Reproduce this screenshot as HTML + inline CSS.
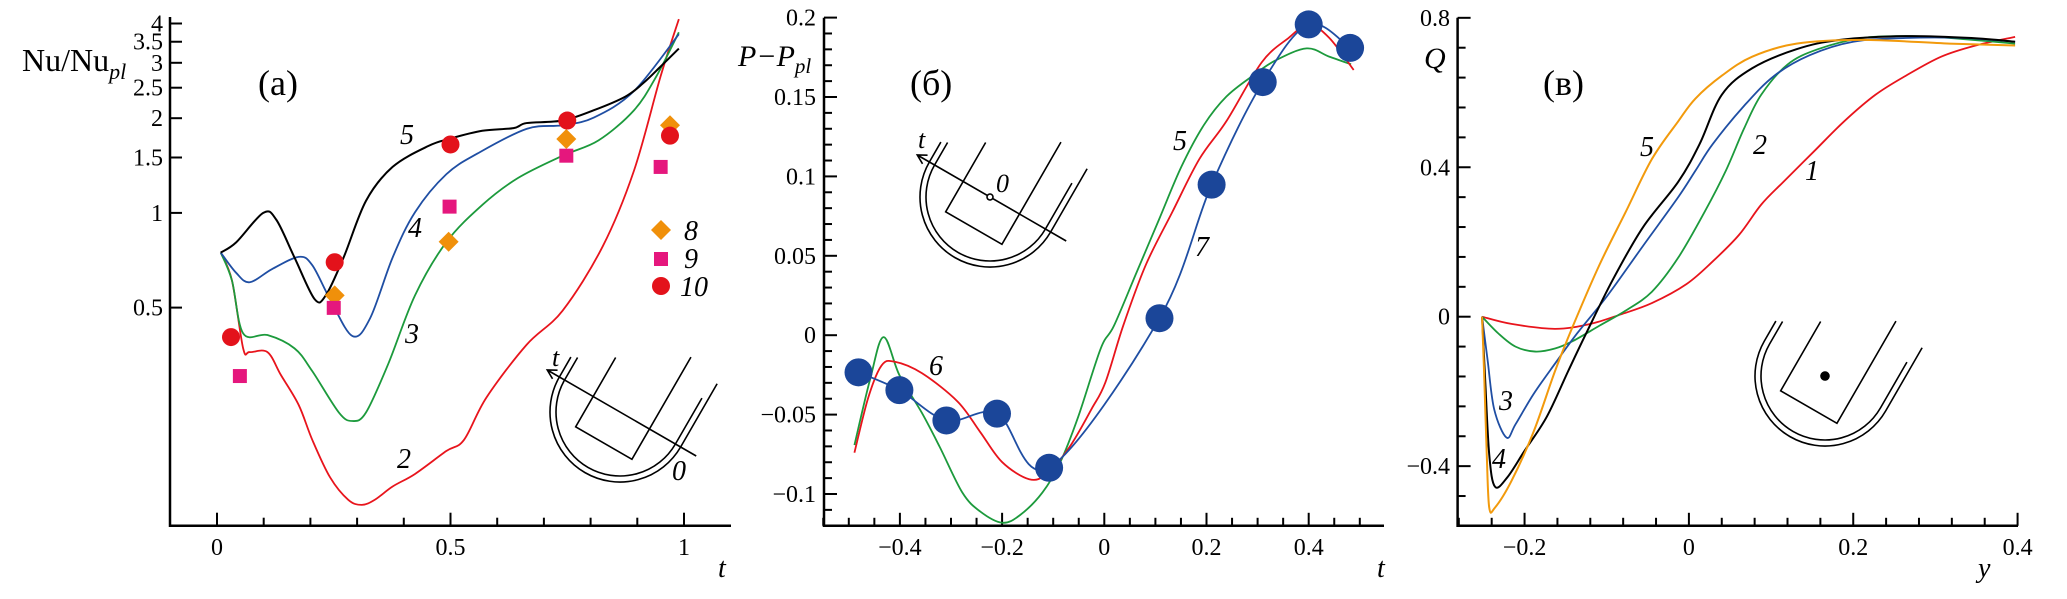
<!DOCTYPE html>
<html><head><meta charset="utf-8"><style>
html,body{margin:0;padding:0;background:#fff;}
svg, svg text, svg tspan{font-family:"Liberation Serif","DejaVu Serif","Times New Roman",serif;}
</style></head><body>
<svg id="fig" width="2067" height="594" viewBox="0 0 2067 594" xmlns="http://www.w3.org/2000/svg">
<g id="pa"></g>
<g id="pb"></g>
<g id="pc"></g>
</svg>
<script>
// ---------- Panel (a) data: Nu/Nu_pl vs t (log scale) ----------
const aT5=[0.008,0.041,0.099,0.127,0.166,0.209,0.233,0.271,0.319,0.376,0.453,0.501,0.568,0.635,0.663,0.740,0.807,0.874,0.912,0.950,0.989];
const aV5=[0.748,0.806,1.0,0.951,0.721,0.532,0.547,0.721,1.092,1.40,1.633,1.725,1.824,1.86,1.93,1.966,2.12,2.34,2.58,2.92,3.33];
const aT4=[0.008,0.041,0.070,0.118,0.175,0.204,0.242,0.290,0.328,0.376,0.424,0.491,0.558,0.663,0.740,0.807,0.893,0.989];
const aV4=[0.748,0.645,0.602,0.663,0.725,0.682,0.532,0.406,0.463,0.721,1.005,1.327,1.545,1.85,1.90,2.01,2.44,3.70];
const aT3=[0.008,0.032,0.056,0.108,0.166,0.204,0.261,0.290,0.319,0.367,0.424,0.491,0.568,0.644,0.740,0.817,0.893,0.941,0.989];
const aV3=[0.748,0.61,0.414,0.409,0.371,0.314,0.232,0.218,0.232,0.332,0.547,0.807,1.06,1.29,1.52,1.70,2.12,2.72,3.75];
const aT2=[0.008,0.032,0.056,0.070,0.108,0.137,0.175,0.204,0.242,0.281,0.310,0.338,0.376,0.424,0.491,0.529,0.577,0.663,0.740,0.826,0.893,0.950,0.989];
const aV2=[0.748,0.61,0.371,0.361,0.361,0.305,0.245,0.19,0.1445,0.1225,0.118,0.1225,0.135,0.148,0.175,0.19,0.259,0.381,0.489,0.783,1.364,2.72,4.13];
const aT8=[0.252,0.496,0.748,0.970];
const aV8=[0.547,0.81,1.717,1.90];
const aT9=[0.049,0.25,0.498,0.748,0.95];
const aV9=[0.303,0.499,1.047,1.52,1.40];
const aT10=[0.03,0.252,0.5,0.75,0.97];
const aV10=[0.403,0.697,1.65,1.966,1.76];
const aXTicks=[0,0.5,1];
const aXTickLabels=["0","0.5","1"];
const aYTicks=[0.5,1,1.5,2,2.5,3,3.5,4];
const aYTickLabels=["0.5","1","1.5","2","2.5","3","3.5","4"];

// ---------- Panel (b) data: P-P_pl vs t ----------
const bT7=[-0.481,-0.401,-0.309,-0.210,-0.108,0.108,0.210,0.310,0.400,0.481];
const bV7=[-0.0234,-0.0346,-0.0537,-0.0494,-0.0835,0.0107,0.0948,0.1594,0.1957,0.1809];
const bT5=[-0.489,-0.458,-0.432,-0.401,-0.357,-0.322,-0.278,-0.243,-0.200,-0.165,-0.121,-0.086,-0.051,-0.007,0.019,0.063,0.107,0.151,0.195,0.239,0.291,0.335,0.396,0.440,0.483];
const bV5=[-0.0692,-0.0274,-0.0012,-0.0251,-0.0489,-0.0704,-0.0990,-0.1110,-0.1181,-0.1133,-0.0990,-0.0799,-0.0513,-0.0084,0.0060,0.0394,0.0728,0.1062,0.1324,0.1503,0.1635,0.1730,0.1806,0.1754,0.1706];
const bT6=[-0.489,-0.462,-0.436,-0.410,-0.357,-0.287,-0.243,-0.200,-0.147,-0.112,-0.068,-0.025,0.002,0.037,0.081,0.133,0.186,0.239,0.308,0.361,0.400,0.440,0.488];
const bV6=[-0.074,-0.0394,-0.0191,-0.0167,-0.0239,-0.0418,-0.0609,-0.0799,-0.0907,-0.0871,-0.0704,-0.0465,-0.0298,0.0060,0.0441,0.0775,0.1109,0.1348,0.1718,0.1873,0.1957,0.1873,0.1670];
const bXTicks=[-0.4,-0.2,0,0.2,0.4];
const bXTickLabels=["\u22120.4","\u22120.2","0","0.2","0.4"];
const bYTicks=[-0.1,-0.05,0,0.05,0.1,0.15,0.2];
const bYTickLabels=["\u22120.1","\u22120.05","0","0.05","0.1","0.15","0.2"];

// ---------- Panel (c) data: Q vs y ----------
const cT1=[-0.2517,-0.216,-0.163,-0.12,-0.083,-0.045,-0.003,0.029,0.061,0.088,0.115,0.152,0.189,0.227,0.264,0.307,0.349,0.397];
const cV1=[0,-0.0193,-0.0325,-0.0193,0.0061,0.0365,0.0872,0.148,0.219,0.300,0.361,0.442,0.523,0.594,0.645,0.696,0.726,0.749];
const cT2=[-0.2517,-0.232,-0.211,-0.187,-0.163,-0.141,-0.109,-0.077,-0.045,-0.013,0.019,0.045,0.067,0.088,0.120,0.157,0.211,0.264,0.317,0.397];
const cV2=[0,-0.0446,-0.0801,-0.0933,-0.0852,-0.0649,-0.0243,0.0162,0.0669,0.158,0.280,0.391,0.503,0.594,0.675,0.716,0.746,0.751,0.746,0.731];
const cT3=[-0.2517,-0.245,-0.237,-0.222,-0.211,-0.189,-0.163,-0.136,-0.099,-0.056,-0.013,0.008,0.029,0.067,0.104,0.147,0.200,0.264,0.333,0.397];
const cV3=[0,-0.1156,-0.2475,-0.3235,-0.2880,-0.2069,-0.1258,-0.0446,0.0568,0.189,0.320,0.391,0.462,0.564,0.645,0.700,0.736,0.746,0.746,0.736];
const cT4=[-0.2517,-0.248,-0.243,-0.236,-0.221,-0.2,-0.173,-0.147,-0.125,-0.093,-0.056,-0.013,0.013,0.040,0.077,0.131,0.184,0.264,0.344,0.397];
const cV4=[0,-0.166,-0.369,-0.455,-0.430,-0.359,-0.268,-0.146,-0.0446,0.0974,0.239,0.361,0.462,0.594,0.665,0.716,0.741,0.751,0.746,0.736];
const cT5=[-0.2517,-0.249,-0.246,-0.243,-0.236,-0.216,-0.189,-0.163,-0.141,-0.109,-0.077,-0.045,-0.013,0.008,0.040,0.077,0.131,0.211,0.317,0.397];
const cV5=[0,-0.166,-0.369,-0.511,-0.511,-0.440,-0.308,-0.146,-0.0243,0.138,0.280,0.422,0.523,0.584,0.645,0.696,0.731,0.741,0.731,0.726];
const cXTicks=[-0.2,0,0.2,0.4];
const cXTickLabels=["\u22120.2","0","0.2","0.4"];
const cYTicks=[-0.4,0,0.4,0.8];
const cYTickLabels=["\u22120.4","0","0.4","0.8"];

const NS="http://www.w3.org/2000/svg";
const FONT="'Liberation Serif', 'DejaVu Serif', serif";
function mk(parent,tag,attrs,text){
  const e=document.createElementNS(NS,tag);
  for(const k in attrs) e.setAttribute(k,attrs[k]);
  if(text!==undefined) e.textContent=text;
  parent.appendChild(e);
  return e;
}
function crPath(pts){
  let d="M"+pts[0][0].toFixed(2)+","+pts[0][1].toFixed(2);
  for(let i=0;i<pts.length-1;i++){
    const p0=pts[Math.max(0,i-1)],p1=pts[i],p2=pts[i+1],p3=pts[Math.min(pts.length-1,i+2)];
    const c1=[p1[0]+(p2[0]-p0[0])/6,p1[1]+(p2[1]-p0[1])/6];
    const c2=[p2[0]-(p3[0]-p1[0])/6,p2[1]-(p3[1]-p1[1])/6];
    d+="C"+c1[0].toFixed(2)+","+c1[1].toFixed(2)+" "+c2[0].toFixed(2)+","+c2[1].toFixed(2)+" "+p2[0].toFixed(2)+","+p2[1].toFixed(2);
  }
  return d;
}
function curve(g,xs,ys,sx,sy,color,w,name){
  const pts=xs.map((x,i)=>[sx(x),sy(ys[i])]);
  const p=mk(g,"path",{d:crPath(pts),fill:"none",stroke:color,"stroke-width":w,"stroke-linejoin":"round"});
  
  
  return p;
}
function txt(g,x,y,s,opts,name){
  const a=Object.assign({x:x,y:y,"font-size":24,fill:"#000"},opts||{});
  const t=mk(g,"text",a,s);
  t.style.fontFamily=FONT;
  
  
  return t;
}
function axes(g,x0,x1,y0,y1,name){
  const p=mk(g,"path",{d:`M${x0},${y1} L${x0},${y0} L${x1},${y0}`,fill:"none",stroke:"#000","stroke-width":2.5});
  
  
}
function tick(g,x1,y1,x2,y2,name){
  const l=mk(g,"line",{x1:x1,y1:y1,x2:x2,y2:y2,stroke:"#000","stroke-width":2});
  
  
}
function inset(g,cx,cy,opts){
  const gg=mk(g,"g",{transform:`translate(${cx},${cy}) rotate(30)`,fill:"none",stroke:"#000","stroke-width":1.6});
  
  
  mk(gg,"path",{d:"M-70,-23 L-70,0 A70,70 0 0 0 70,0 L70,-73"});
  mk(gg,"path",{d:"M-64,-26 L-64,0 A64,64 0 0 0 64,0 L64,-53"});
  mk(gg,"path",{d:"M-31,-45 L-31,35 L34,35 L34,-83"});
  if(opts.arrow){
    mk(gg,"path",{d:"M88,0 L-84,0 M-75,-5 L-84,0 L-75,5"});
  }
  if(opts.circle){ mk(gg,"circle",{cx:0,cy:0,r:3,fill:"#fff"}); }
  if(opts.dot){ mk(gg,"circle",{cx:0,cy:0,r:4,fill:"#000"}); }
}

// ================= Panel (a) =================
(function(){
  const g=document.getElementById("pa");
  const sx=t=>217+467*t;
  const sy=v=>212.9-314.6*Math.log10(v);
  axes(g,170,731,525.7,17,"axes-a");
  for(let k=0;k<=10;k++){const t=k/10;const major=(k%5===0);tick(g,sx(t),525.7,sx(t),525.7-(major?13:8),"x-tick-a");}
  aXTicks.forEach((t,i)=>txt(g,sx(t),555,aXTickLabels[i],{"text-anchor":"middle"},"x-tick-label-a"));
  aYTicks.forEach((v,i)=>{tick(g,170,sy(v),182,sy(v),"y-tick-a");txt(g,163,sy(v)+8,aYTickLabels[i],{"text-anchor":"end"},"y-tick-label-a");});
  const yt=txt(g,22,71,"Nu/Nu",{"font-size":32},"y-axis-title-a");
  mk(yt,"tspan",{"font-style":"italic","font-size":22,dy:8},"pl");
  txt(g,258,95,"(a)",{"font-size":36},"panel-label-a");
  txt(g,718,577,"t",{"font-size":28,"font-style":"italic"},"x-axis-title-a");
  inset(g,620,412,{arrow:true});
  txt(g,552,366,"t",{"font-size":26,"font-style":"italic"},"inset-axis-label-a");
  txt(g,672,480,"0",{"font-size":28,"font-style":"italic"},"inset-origin-label-a");
  curve(g,aT2,aV2,sx,sy,"#e8141c",1.8,"curve-2");
  curve(g,aT3,aV3,sx,sy,"#1c9a3c",1.8,"curve-3");
  curve(g,aT4,aV4,sx,sy,"#1f4ea3",1.8,"curve-4");
  curve(g,aT5,aV5,sx,sy,"#000",2,"curve-5");
  aT8.forEach((t,i)=>{const x=sx(t),y=sy(aV8[i]);const d=mk(g,"path",{d:`M${x},${y-10} L${x+10},${y} L${x},${y+10} L${x-10},${y}Z`,fill:"#f0900a"});
    
    });
  aT9.forEach((t,i)=>{const x=sx(t),y=sy(aV9[i]);const r=mk(g,"rect",{x:x-7,y:y-7,width:14,height:14,fill:"#e5177d"});
    
    });
  aT10.forEach((t,i)=>{const c=mk(g,"circle",{cx:sx(t),cy:sy(aV10[i]),r:9,fill:"#e3121b"});
    
    });
  const lg=mk(g,"g",{});
  
  
  mk(lg,"path",{d:"M661,220 L671,230 L661,240 L651,230Z",fill:"#f0900a"});
  mk(lg,"rect",{x:654,y:252,width:14,height:14,fill:"#e5177d"});
  mk(lg,"circle",{cx:661,cy:286,r:9,fill:"#e3121b"});
  txt(lg,684,240,"8",{"font-size":28,"font-style":"italic"},"legend-label-8");
  txt(lg,684,268,"9",{"font-size":28,"font-style":"italic"},"legend-label-9");
  txt(lg,680,296,"10",{"font-size":28,"font-style":"italic"},"legend-label-10");
  txt(g,400,144,"5",{"font-size":28,"font-style":"italic"},"curve-label-5");
  txt(g,408,237,"4",{"font-size":28,"font-style":"italic"},"curve-label-4");
  txt(g,405,343,"3",{"font-size":28,"font-style":"italic"},"curve-label-3");
  txt(g,397,468,"2",{"font-size":28,"font-style":"italic"},"curve-label-2");
})();

// ================= Panel (б) =================
(function(){
  const g=document.getElementById("pb");
  const sx=t=>1104.3+511*t;
  const sy=v=>335.2-1588*v;
  axes(g,824,1384,525.8,17.8,"axes-b");
  for(let k=-11;k<=10;k++){const t=k*0.05;const major=(k%4===0);tick(g,sx(t),525.8,sx(t),525.8-(major?13:8),"x-tick-b");}
  for(let k=-12;k<=20;k++){const v=k*0.01;const major=(k%5===0);tick(g,824,sy(v),824+(major?13:8),sy(v),"y-tick-b");}
  bXTicks.forEach((t,i)=>txt(g,sx(t),555,bXTickLabels[i],{"text-anchor":"middle"},"x-tick-label-b"));
  bYTicks.forEach((v,i)=>txt(g,816,sy(v)+8,bYTickLabels[i],{"text-anchor":"end"},"y-tick-label-b"));
  const yt=txt(g,738,66,"P\u2212P",{"font-size":30,"font-style":"italic"},"y-axis-title-b");
  mk(yt,"tspan",{"font-size":21,dy:7},"pl");
  txt(g,910,95,"(\u0431)",{"font-size":36},"panel-label-b");
  txt(g,1377,577,"t",{"font-size":28,"font-style":"italic"},"x-axis-title-b");
  inset(g,990,197,{arrow:true,circle:true});
  txt(g,918,148,"t",{"font-size":26,"font-style":"italic"},"inset-axis-label-b");
  txt(g,996,192,"0",{"font-size":26,"font-style":"italic"},"inset-origin-label-b");
  curve(g,bT5,bV5,sx,sy,"#1c9a3c",1.8,"curve-5");
  curve(g,bT6,bV6,sx,sy,"#e8141c",1.8,"curve-6");
  curve(g,bT7,bV7,sx,sy,"#1f4ea3",1.8,"curve-7");
  bT7.forEach((t,i)=>{const c=mk(g,"circle",{cx:sx(t),cy:sy(bV7[i]),r:14,fill:"#1b4699"});
    
    });
  txt(g,1173,150,"5",{"font-size":28,"font-style":"italic"},"curve-label-5");
  txt(g,1195,256,"7",{"font-size":28,"font-style":"italic"},"curve-label-7");
  txt(g,929,375,"6",{"font-size":28,"font-style":"italic"},"curve-label-6");
})();

// ================= Panel (в) =================
(function(){
  const g=document.getElementById("pc");
  const sx=t=>1688.9+821.7*t;
  const sy=v=>316.7-373.6*v;
  axes(g,1457.6,2018,525.8,17.8,"axes-c");
  for(let k=-7;k<=10;k++){const t=k*0.04;const major=(k%5===0);tick(g,sx(t),525.8,sx(t),525.8-(major?13:8),"x-tick-c");}
  for(let k=-7;k<=10;k++){const v=k*0.08;const major=(k%5===0);tick(g,1457.6,sy(v),1457.6+(major?13:8),sy(v),"y-tick-c");}
  cXTicks.forEach((t,i)=>txt(g,sx(t),555,cXTickLabels[i],{"text-anchor":"middle"},"x-tick-label-c"));
  cYTicks.forEach((v,i)=>txt(g,1450,sy(v)+8,cYTickLabels[i],{"text-anchor":"end"},"y-tick-label-c"));
  txt(g,1424,68,"Q",{"font-size":30,"font-style":"italic"},"y-axis-title-c");
  txt(g,1543,95,"(\u0432)",{"font-size":36},"panel-label-c");
  txt(g,1978,577,"y",{"font-size":28,"font-style":"italic"},"x-axis-title-c");
  inset(g,1825,376,{dot:true});
  curve(g,cT1,cV1,sx,sy,"#e8141c",1.8,"curve-1");
  curve(g,cT2,cV2,sx,sy,"#1c9a3c",1.8,"curve-2");
  curve(g,cT3,cV3,sx,sy,"#1f4ea3",1.8,"curve-3");
  curve(g,cT4,cV4,sx,sy,"#000",2,"curve-4");
  curve(g,cT5,cV5,sx,sy,"#f29a0c",2,"curve-5");
  txt(g,1640,156,"5",{"font-size":28,"font-style":"italic"},"curve-label-5");
  txt(g,1753,154,"2",{"font-size":28,"font-style":"italic"},"curve-label-2");
  txt(g,1805,180,"1",{"font-size":28,"font-style":"italic"},"curve-label-1");
  txt(g,1499,410,"3",{"font-size":28,"font-style":"italic"},"curve-label-3");
  txt(g,1492,468,"4",{"font-size":28,"font-style":"italic"},"curve-label-4");
})();
</script>
</body></html>
